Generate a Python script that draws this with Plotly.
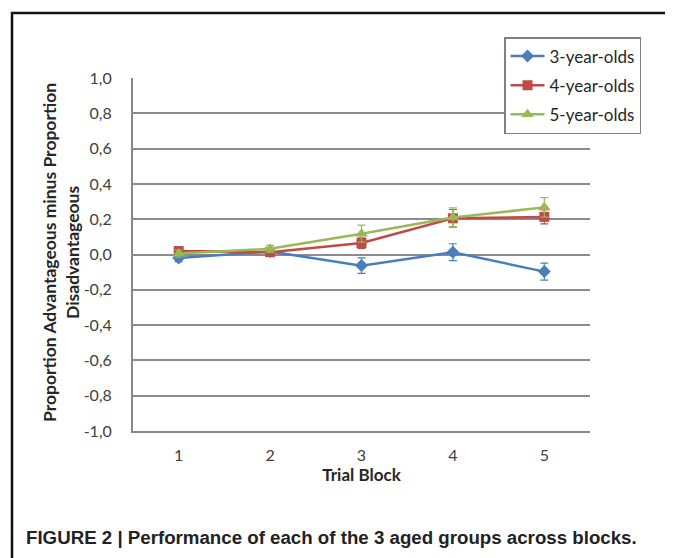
import plotly.graph_objects as go

blocks = ["1", "2", "3", "4", "5"]
series_names = ["3-year-olds", "4-year-olds", "5-year-olds"]
vals_3 = [-0.02, 0.017, -0.063, 0.013, -0.097]
err_3 = [0.02, 0.02, 0.044, 0.048, 0.048]
vals_4 = [0.02, 0.013, 0.065, 0.205, 0.213]
err_4 = [0.02, 0.02, 0.03, 0.05, 0.04]
vals_5 = [0.005, 0.032, 0.118, 0.21, 0.267]
err_5 = [0.02, 0.02, 0.048, 0.054, 0.055]
y_ticks = [1.0, 0.8, 0.6, 0.4, 0.2, 0.0, -0.2, -0.4, -0.6, -0.8, -1.0]
y_tick_text = ["1,0", "0,8", "0,6", "0,4", "0,2", "0,0", "-0,2", "-0,4", "-0,6", "-0,8", "-1,0"]

colors = ["#4a7ebb", "#be4b48", "#98b954"]
symbols = ["diamond", "square", "triangle-up"]
sizes = [10, 10, 11]

fig = go.Figure()
for name, vals, errs, c, s, sz in zip(series_names, [vals_3, vals_4, vals_5],
                                      [err_3, err_4, err_5], colors, symbols, sizes):
    fig.add_trace(go.Scatter(
        x=blocks, y=vals, name=name, legendgroup=name,
        mode="lines+markers",
        line=dict(color=c, width=2.5),
        marker=dict(symbol=s, size=sz, color=c),
        error_y=dict(type="data", array=errs, visible=True, color=c, thickness=1.2, width=4),
    ))

# page body has an 8px margin: all reference pixel positions shifted by 8
OFF = 8
W, H = 665, 550
L, R, T, B = 133 - OFF, 590 - OFF, 78 - OFF, 431 - OFF

def px(x):
    return (x - OFF - L) / (R - L)

def py(y):
    return (B - (y - OFF)) / (B - T)

fig.update_layout(
    width=W, height=H,
    margin=dict(l=L, r=W - R, t=T, b=H - B),
    paper_bgcolor="white", plot_bgcolor="white",
    font=dict(family="Lato, Open Sans, sans-serif", size=16, color="#404040"),
    showlegend=True,
    legend=dict(
        x=px(504), y=py(37), xanchor="left", yanchor="top",
        bgcolor="white", bordercolor="#808080", borderwidth=1.5,
        font=dict(size=17, color="#262626"),
        traceorder="grouped", tracegroupgap=4,
        itemwidth=34,
    ),
    xaxis=dict(
        type="category", range=[-0.5, 4.5],
        showgrid=False, showline=True, linecolor="#888888", linewidth=2,
        ticks="", ticklabelstandoff=9,
        tickfont=dict(size=16, color="#404040"),
        title=dict(text="<b>Trial Block</b>", font=dict(size=17, color="#262626"), standoff=0),
        zeroline=False, fixedrange=True,
    ),
    yaxis=dict(
        range=[-1.0, 1.0],
        tickvals=y_ticks, ticktext=y_tick_text,
        showgrid=True, gridcolor="#8c8c8c", gridwidth=1.5,
        showline=True, linecolor="#888888", linewidth=2,
        zeroline=False, ticks="", ticklabelstandoff=16,
        tickfont=dict(size=16, color="#404040"),
        fixedrange=True,
    ),
    shapes=[
        dict(type="rect", xref="paper", yref="paper",
             x0=px(12), x1=px(669), y0=py(13), y1=py(640),
             line=dict(color="#111111", width=2.5), layer="above"),
    ],
    annotations=[
        dict(text="<b>Proportion Advantageous minus Proportion<br>Disadvantageous</b>",
             xref="paper", yref="paper", x=px(61), y=py(253),
             xanchor="center", yanchor="middle", textangle=-90, showarrow=False,
             font=dict(size=17.5, color="#262626")),
        dict(text="<b>FIGURE 2 | Performance of each of the 3 aged groups across blocks.</b>",
             xref="paper", yref="paper", x=px(24), y=py(537),
             xanchor="left", yanchor="middle", showarrow=False,
             font=dict(family="Liberation Sans Narrow, Arial Narrow, Liberation Sans, sans-serif",
                       size=18.7, color="#222222")),
    ],
)

fig.write_html("out.html")
